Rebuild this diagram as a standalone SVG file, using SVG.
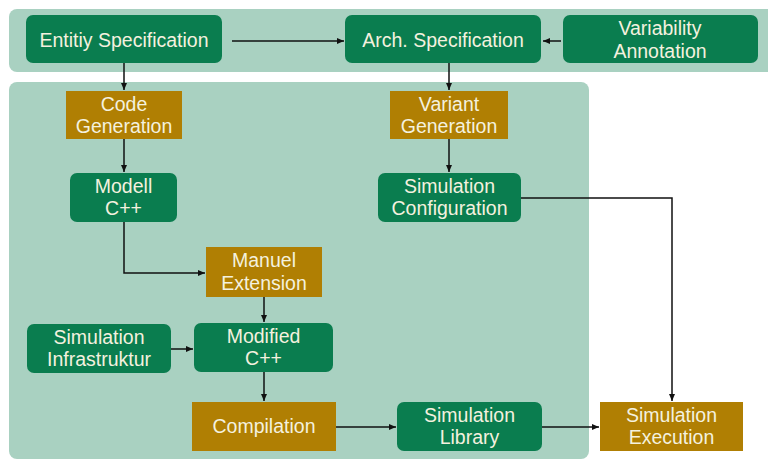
<svg xmlns="http://www.w3.org/2000/svg" width="768" height="461" viewBox="0 0 768 461">
<style>
.band{fill:#A9D1C1}
.g{fill:#0A7D4F}
.o{fill:#B07F03}
.t{font-family:"Liberation Sans",Arial,sans-serif;font-size:19.5px;fill:#F4F1DF;text-anchor:middle}
.c{fill:none;stroke:#111;stroke-width:1.5}
</style>
<defs>
<marker id="ah" markerWidth="8" markerHeight="8" refX="7" refY="4" orient="auto" markerUnits="userSpaceOnUse">
<path d="M0,1 L7,4 L0,7 Z" fill="#111"/>
</marker>
</defs>
<rect class="band" x="9" y="9" width="766" height="63" rx="8"/>
<rect class="band" x="9" y="82" width="580" height="377" rx="8"/>

<g id="connectors">
<line class="c" x1="232" y1="41" x2="344" y2="41" marker-end="url(#ah)"/>
<line class="c" x1="561" y1="41" x2="543" y2="41" marker-end="url(#ah)"/>
<line class="c" x1="124" y1="63" x2="124" y2="90" marker-end="url(#ah)"/>
<line class="c" x1="449" y1="63" x2="449" y2="90" marker-end="url(#ah)"/>
<line class="c" x1="124" y1="139" x2="124" y2="172" marker-end="url(#ah)"/>
<line class="c" x1="449" y1="139" x2="449" y2="172" marker-end="url(#ah)"/>
<polyline class="c" points="124,222 124,273 205,273" marker-end="url(#ah)"/>
<line class="c" x1="264" y1="297" x2="264" y2="322" marker-end="url(#ah)"/>
<line class="c" x1="171" y1="349" x2="193" y2="349" marker-end="url(#ah)"/>
<line class="c" x1="264" y1="372" x2="264" y2="401" marker-end="url(#ah)"/>
<line class="c" x1="336" y1="427" x2="396" y2="427" marker-end="url(#ah)"/>
<line class="c" x1="542" y1="427" x2="599" y2="427" marker-end="url(#ah)"/>
<polyline class="c" points="521,198 672,198 672,401" marker-end="url(#ah)"/>
</g>

<g id="entity-spec">
<rect class="g" x="26" y="15" width="196" height="48" rx="7"/>
<text class="t" x="124" y="47">Entitiy Specification</text>
</g>
<g id="arch-spec">
<rect class="g" x="345" y="15" width="196" height="48" rx="7"/>
<text class="t" x="443" y="47">Arch. Specification</text>
</g>
<g id="variability-annotation">
<rect class="g" x="563" y="15" width="195" height="48" rx="7"/>
<text class="t" x="660" y="35">Variability</text>
<text class="t" x="660" y="58">Annotation</text>
</g>
<g id="code-generation">
<rect class="o" x="66" y="91" width="116" height="48"/>
<text class="t" x="124" y="111">Code</text>
<text class="t" x="124" y="133">Generation</text>
</g>
<g id="variant-generation">
<rect class="o" x="390" y="91" width="118" height="48"/>
<text class="t" x="449" y="111">Variant</text>
<text class="t" x="449" y="133">Generation</text>
</g>
<g id="modell-cpp">
<rect class="g" x="70" y="173" width="107" height="49" rx="7"/>
<text class="t" x="123.5" y="193">Modell</text>
<text class="t" x="123.5" y="215">C++</text>
</g>
<g id="simulation-configuration">
<rect class="g" x="378" y="173" width="143" height="49" rx="7"/>
<text class="t" x="449.5" y="193">Simulation</text>
<text class="t" x="449.5" y="215">Configuration</text>
</g>
<g id="manuel-extension">
<rect class="o" x="206" y="247" width="116" height="50"/>
<text class="t" x="264" y="267">Manuel</text>
<text class="t" x="264" y="290">Extension</text>
</g>
<g id="simulation-infrastruktur">
<rect class="g" x="27" y="324" width="144" height="49" rx="7"/>
<text class="t" x="99" y="344">Simulation</text>
<text class="t" x="99" y="366">Infrastruktur</text>
</g>
<g id="modified-cpp">
<rect class="g" x="194" y="323" width="139" height="49" rx="7"/>
<text class="t" x="263.5" y="343">Modified</text>
<text class="t" x="263.5" y="365">C++</text>
</g>
<g id="compilation">
<rect class="o" x="192" y="402" width="144" height="49"/>
<text class="t" x="264" y="433">Compilation</text>
</g>
<g id="simulation-library">
<rect class="g" x="397" y="402" width="145" height="49" rx="7"/>
<text class="t" x="469.5" y="422">Simulation</text>
<text class="t" x="469.5" y="444">Library</text>
</g>
<g id="simulation-execution">
<rect class="o" x="600" y="402" width="143" height="49"/>
<text class="t" x="671.5" y="422">Simulation</text>
<text class="t" x="671.5" y="444">Execution</text>
</g>
</svg>
